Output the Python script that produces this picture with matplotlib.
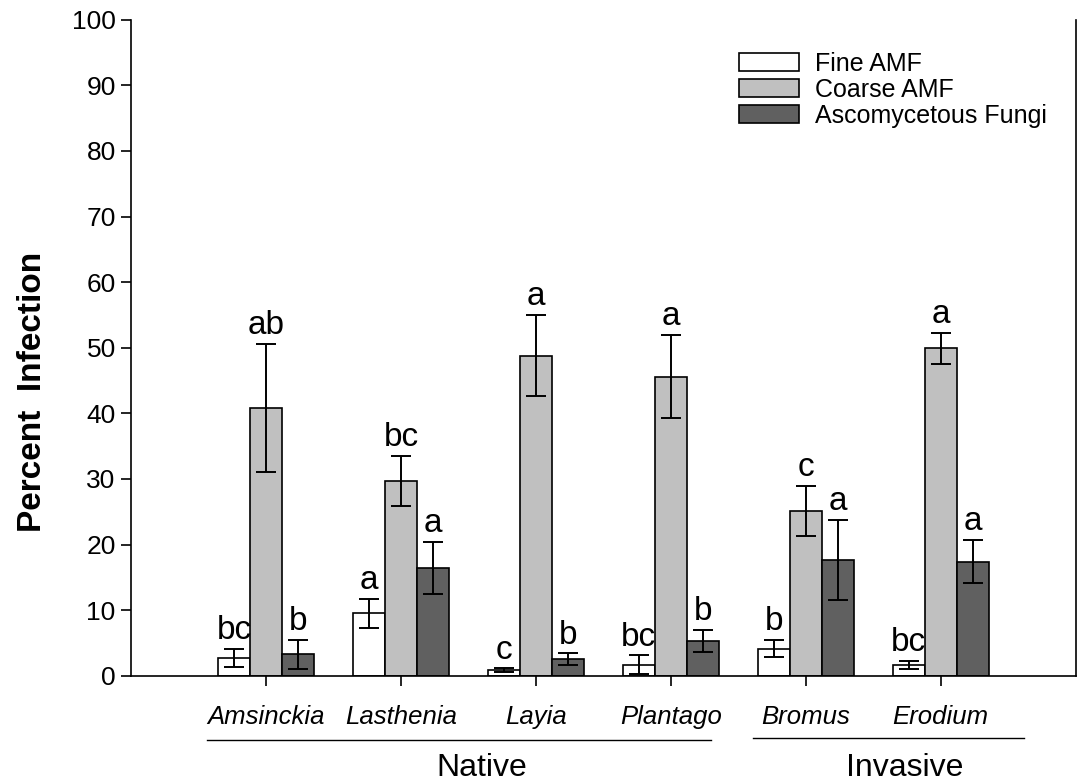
import matplotlib
matplotlib.use("Agg")
import matplotlib.pyplot as plt
import numpy as np
import matplotlib.transforms as mtransforms

plt.rcParams['font.family'] = ['Liberation Sans', 'DejaVu Sans']

species = ["Amsinckia", "Lasthenia", "Layia", "Plantago", "Bromus", "Erodium"]
series_names = ["Fine AMF", "Coarse AMF", "Ascomycetous Fungi"]

fine_mean = [2.7, 9.5, 0.8, 1.7, 4.1, 1.6]
fine_err = [1.35, 2.2, 0.3, 1.4, 1.3, 0.6]
coarse_mean = [40.8, 29.7, 48.8, 45.6, 25.1, 49.9]
coarse_err = [9.8, 3.8, 6.2, 6.3, 3.8, 2.4]
asco_mean = [3.25, 16.4, 2.5, 5.3, 17.6, 17.4]
asco_err = [2.25, 4.0, 0.9, 1.65, 6.1, 3.3]

fine_letters = ["bc", "a", "c", "bc", "b", "bc"]
coarse_letters = ["ab", "bc", "a", "a", "c", "a"]
asco_letters = ["b", "a", "b", "b", "a", "a"]

groups = ["Native", "Invasive"]

colors = ["#ffffff", "#c0c0c0", "#606060"]

fig = plt.figure(figsize=(10.77, 7.84), dpi=100)
ax = fig.add_axes([131/1077, 1 - 675.7/784, (1075.7-131)/1077, (675.7-19.7)/784])

x = np.arange(1, len(species) + 1)
w = 0.237
means = [fine_mean, coarse_mean, asco_mean]
errs = [fine_err, coarse_err, asco_err]
letters = [fine_letters, coarse_letters, asco_letters]

for i in range(3):
    xi = x + (i - 1) * w
    ax.bar(xi, means[i], width=w, color=colors[i], edgecolor="black",
           linewidth=1.2, label=series_names[i], zorder=2)
    ax.errorbar(xi, means[i], yerr=errs[i], fmt="none", ecolor="black",
                elinewidth=1.4, capsize=7.2, capthick=1.4, zorder=3)
    for xx, m, e, lab in zip(xi, means[i], errs[i], letters[i]):
        ax.annotate(lab, (xx, m + e), xytext=(0, 2.0), textcoords="offset points",
                    ha="center", va="bottom", fontsize=24)

ax.set_xlim(0, 7)
ax.set_ylim(0, 100)
ax.set_yticks(np.arange(0, 101, 10))
ax.set_xticks(x)
ax.set_xticklabels(species, fontsize=18.5, style="italic")
ax.tick_params(axis="y", direction="out", length=7, width=1.2, labelsize=19, pad=4)
ax.tick_params(axis="x", direction="out", length=7, width=1.2, pad=14)
ax.spines["top"].set_visible(False)
for s in ["left", "bottom", "right"]:
    ax.spines[s].set_linewidth(1.2)

ax.set_ylabel("Percent  Infection", fontsize=24, fontweight="bold")
ax.yaxis.set_label_coords(-0.088, 0.432)

# Group lines and labels
trans = mtransforms.blended_transform_factory(ax.transData, ax.transAxes)
group_line_spans = [(0.563, 4.30), (4.61, 6.62)]
group_line_y = [-0.098, -0.095]
group_text_x = [2.6, 5.73]
for g, (x0, x1), ly, tx in zip(groups, group_line_spans, group_line_y, group_text_x):
    ax.plot([x0, x1], [ly, ly], color="black", linewidth=1.0, transform=trans, clip_on=False)
    ax.text(tx, -0.141, g, transform=trans, ha="center", va="center", fontsize=23)

leg = ax.legend(loc="upper left", bbox_to_anchor=(0.6436, 0.951), frameon=False,
                fontsize=18, handlelength=2.4, handleheight=0.72, handletextpad=0.64,
                labelspacing=0.08, borderpad=0, borderaxespad=0)

fig.savefig("out.png", dpi=100)
